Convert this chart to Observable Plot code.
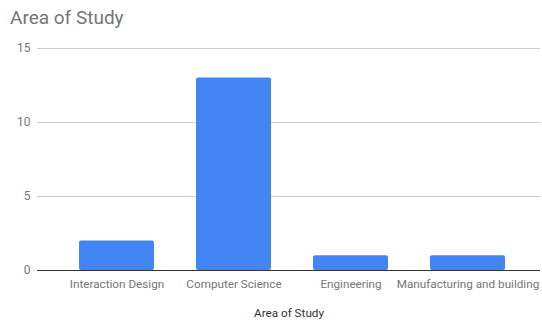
<!DOCTYPE html>
<html>
<head>
<meta charset="utf-8">
<script src="https://cdn.jsdelivr.net/npm/d3@7"></script>
<script src="https://cdn.jsdelivr.net/npm/@observablehq/plot@0.6"></script>
<style>
  html, body { margin: 0; padding: 0; background: #fff; }
  #wrap { position: relative; width: 542px; height: 326px; font-family: Roboto, sans-serif; }
  #title { position: absolute; left: 10px; top: 6px; font-size: 19px; color: #757575; line-height: 24px; }
  #chart { position: absolute; left: 0; top: 36px; }
</style>
</head>
<body>
<div id="wrap">
  <div id="title">Area of Study</div>
  <div id="chart"></div>
</div>
<script>
const categories = ["Interaction Design", "Computer Science", "Engineering", "Manufacturing and building"];
const counts = [2, 13, 1, 1];
const yTicks = [0, 5, 10, 15];

const data = categories.map((area, i) => ({area, count: counts[i]}));

const chart = Plot.plot({
  width: 542,
  height: 290,
  marginTop: 12,
  marginBottom: 56,
  marginLeft: 37,
  marginRight: 2,
  style: {fontFamily: "Roboto, sans-serif", background: "#fff"},
  x: {domain: categories, paddingInner: 0.36, paddingOuter: 0.18, insetLeft: 20, insetRight: 13, label: null},
  y: {domain: [0, 15], label: null},
  marks: [
    Plot.ruleY(yTicks.filter(d => d > 0), {stroke: "#cccccc", strokeWidth: 1}),
    Plot.barY(data, {x: "area", y: "count", fill: "#4285f4", rx: 2}),
    Plot.ruleY([0], {stroke: "#333333", strokeWidth: 1}),
    Plot.axisY({ticks: yTicks, tickSize: 0, tickPadding: 7, fontSize: 12, color: "#757575", label: null}),
    Plot.axisX({tickSize: 0, tickPadding: 9, fontSize: 11.7, color: "#757575", label: null}),
    Plot.text(["Area of Study"], {frameAnchor: "bottom", dy: 46, fontSize: 11.7, fill: "#333333"})
  ]
});
document.getElementById("chart").appendChild(chart);
</script>
</body>
</html>
